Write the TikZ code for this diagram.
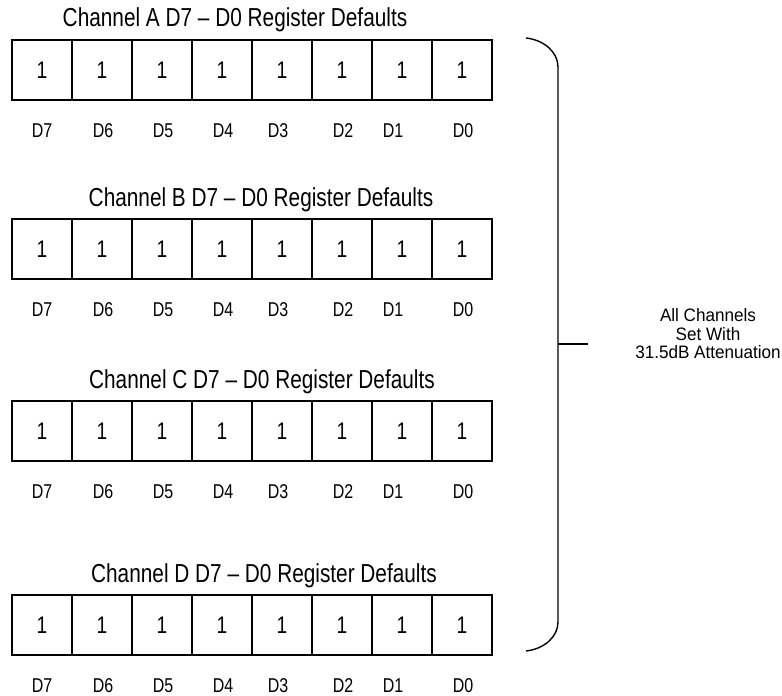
\documentclass[tikz,border=0pt]{standalone}
\usepackage{fontspec}
\setmainfont[FakeStretch=0.95]{Liberation Sans}
\newfontfamily\narrowfont[FakeStretch=0.8]{Liberation Sans}
\begin{document}
\begin{tikzpicture}[x=1pt,y=-1pt,
  cell/.style={draw,line width=1.6pt,minimum width=60pt,minimum height=60pt,inner sep=0pt,
    font=\narrowfont\fontsize{24}{24}\selectfont},
  bitlabel/.style={anchor=base,font=\narrowfont\fontsize{20}{20}\selectfont},
  regtitle/.style={anchor=base,font=\narrowfont\fontsize{26}{26}\selectfont}]
\useasboundingbox (0,0) rectangle (782,696);

\foreach \ch/\y/\tx in {A/70/235,B/249/261,C/431/262,D/625/264}{
  \node[regtitle] (title\ch) at (\tx,\y-43) {Channel \ch\ D7 – D0 Register Defaults};
  \foreach \b/\lx [count=\i from 0] in {7/42,6/103,5/163,4/223,3/278,2/343,1/393,0/463}{
    \node[cell] (cell\ch\b) at (42+60*\i,\y) {1};
    \node[bitlabel] (bit\ch\b) at (\lx,\y+67) {D\b};
  }
}

\coordinate (braceTop) at (526,38);
\coordinate (braceBot) at (526,651);
\coordinate (braceMid) at (558,344);
\node[align=center,inner sep=0pt,font=\fontsize{18}{18.5}\selectfont] (note) at (708,334)
  {All Channels\\Set With\\31.5dB Attenuation};

\draw[line width=1.4pt] (braceTop) .. controls (544,40) and (558,52) .. (558,67)
  -- (558,622) .. controls (558,637) and (544,649) .. (braceBot);
\draw[line width=1.4pt] (braceMid) -- ++(30,0) coordinate (tickEnd);

\end{tikzpicture}
\end{document}
